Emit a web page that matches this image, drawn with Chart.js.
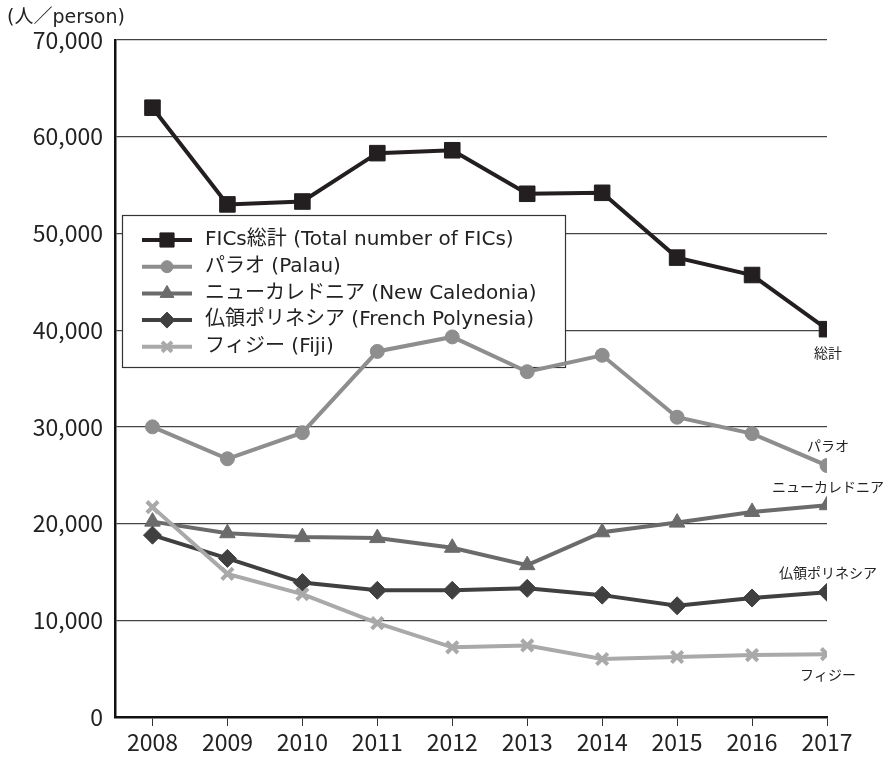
<!DOCTYPE html>
<html>
<head>
<meta charset="utf-8">
<script src="https://cdn.jsdelivr.net/npm/chart.js@4.4.0/dist/chart.umd.min.js"></script>
<style>
  html, body { margin: 0; padding: 0; background: #fff; }
  #wrap { width: 884px; height: 758px; }
</style>
</head>
<body>
<div id="wrap"><canvas id="chart" width="884" height="758"></canvas></div>
<script>
const years = [2008, 2009, 2010, 2011, 2012, 2013, 2014, 2015, 2016, 2017];
const totalFICs = [63000, 53000, 53300, 58300, 58600, 54100, 54200, 47500, 45700, 40100];
const palau = [30000, 26700, 29400, 37800, 39300, 35700, 37400, 31000, 29300, 26000];
const newCaledonia = [20200, 19000, 18600, 18500, 17500, 15700, 19100, 20100, 21200, 21900];
const frenchPolynesia = [18800, 16400, 13900, 13100, 13100, 13300, 12600, 11500, 12300, 12900];
const fiji = [21700, 14800, 12700, 9700, 7200, 7400, 6000, 6200, 6400, 6500];
const legendLabels = [
  "FICs総計 (Total number of FICs)",
  "パラオ (Palau)",
  "ニューカレドニア (New Caledonia)",
  "仏領ポリネシア (French Polynesia)",
  "フィジー (Fiji)"
];
const endLabels = ["総計", "パラオ", "ニューカレドニア", "仏領ポリネシア", "フィジー"];
const yTicks = [0, 10000, 20000, 30000, 40000, 50000, 60000, 70000];
const yTitle = "(人／person)";

const FONT = '"Noto Sans CJK JP", "Noto Sans", sans-serif';
const LEGEND_FONT = '"DejaVu Sans", "Noto Sans CJK JP", sans-serif';

function pts(values) {
  return values.map((v, i) => ({ x: years[i], y: v }));
}

function series(label, values, color, style, radius, pbw) {
  return {
    label: label,
    data: pts(values),
    borderColor: color,
    backgroundColor: color,
    borderWidth: 4,
    pointStyle: style,
    pointRadius: radius,
    pointBorderWidth: pbw,
    pointBackgroundColor: color,
    pointBorderColor: color
  };
}

const datasets = [
  series(legendLabels[4], fiji, "#a9a9a9", "crossRot", 8, 4),
  series(legendLabels[3], frenchPolynesia, "#404040", "rectRot", 9, 1),
  series(legendLabels[2], newCaledonia, "#6b6b6b", "triangle", 9, 1),
  series(legendLabels[1], palau, "#8e8e8e", "circle", 7, 1),
  series(legendLabels[0], totalFICs, "#231f20", "rect", 11, 1)
];
// legend / label order: total first
const ordered = [4, 3, 2, 1, 0];
// offsets of end labels from last point (vertical)
const endOffsets = [24, -20, -19, -20, 21];

const overlay = {
  id: "overlay",
  beforeDatasetsDraw(chart) {
    const ctx = chart.ctx;
    ctx.save();
    // legend box
    ctx.fillStyle = "#fff";
    ctx.fillRect(122, 215, 443, 152);
    ctx.strokeStyle = "#333";
    ctx.lineWidth = 1.2;
    ctx.strokeRect(122.5, 215.5, 443, 152);
    ordered.forEach((di, row) => {
      const ds = chart.data.datasets[di];
      const y = 240 + row * 26.7;
      ctx.strokeStyle = ds.borderColor;
      ctx.lineWidth = 4;
      ctx.beginPath();
      ctx.moveTo(142, y);
      ctx.lineTo(192, y);
      ctx.stroke();
      ctx.fillStyle = ds.pointBackgroundColor;
      ctx.strokeStyle = ds.pointBorderColor;
      ctx.lineWidth = ds.pointBorderWidth;
      Chart.helpers.drawPoint(ctx, {
        pointStyle: ds.pointStyle,
        radius: ds.pointRadius - 1,
        borderWidth: ds.pointBorderWidth,
        rotation: 0
      }, 167, y);
      ctx.fillStyle = "#222";
      ctx.font = "20px " + LEGEND_FONT;
      ctx.textAlign = "left";
      ctx.textBaseline = "middle";
      ctx.fillText(legendLabels[row], 205, y);
    });
    ctx.restore();
  },
  afterDraw(chart) {
    const ctx = chart.ctx;
    const xs = chart.scales.x, ys = chart.scales.y;
    ctx.save();
    ctx.fillStyle = "#222";
    ctx.font = "19px " + LEGEND_FONT;
    ctx.textAlign = "left";
    ctx.textBaseline = "middle";
    ctx.fillText(yTitle, 7, 18);
    ctx.font = "14px " + FONT;
    ctx.textAlign = "center";
    ordered.forEach((di, row) => {
      const vals = chart.data.datasets[di].data;
      const last = vals[vals.length - 1];
      const px = xs.getPixelForValue(last.x);
      const py = ys.getPixelForValue(last.y);
      ctx.fillText(endLabels[row], px + 1, py + endOffsets[row]);
    });
    ctx.restore();
  }
};

new Chart(document.getElementById("chart"), {
  type: "line",
  data: { datasets: datasets },
  options: {
    responsive: false,
    animation: false,
    layout: { padding: { left: 0, right: 57, top: 40, bottom: 0 } },
    plugins: { legend: { display: false }, tooltip: { enabled: false } },
    scales: {
      x: {
        type: "linear",
        min: 2007.5,
        max: 2017,
        afterBuildTicks(scale) {
          scale.ticks = years.map(v => ({ value: v }));
        },
        afterFit(scale) { scale.height = 41; },
        border: { color: "#111", width: 2.5 },
        grid: { drawOnChartArea: false, drawTicks: true, tickLength: 9, color: "#333", lineWidth: 1 },
        ticks: {
          padding: 2,
          color: "#222",
          font: { family: FONT, size: 23 },
          maxRotation: 0,
          autoSkip: false,
          callback: v => String(v)
        }
      },
      y: {
        min: 0,
        max: 70000,
        afterBuildTicks(scale) {
          scale.ticks = yTicks.map(v => ({ value: v }));
        },
        afterFit(scale) { scale.width = 115; },
        border: { color: "#111", width: 2.5 },
        grid: { drawTicks: false, color: "#444", lineWidth: 1.2 },
        ticks: {
          padding: 12,
          color: "#222",
          font: { family: FONT, size: 23 },
          callback: v => v.toLocaleString("en-US")
        }
      }
    }
  },
  plugins: [overlay]
});
</script>
</body>
</html>
